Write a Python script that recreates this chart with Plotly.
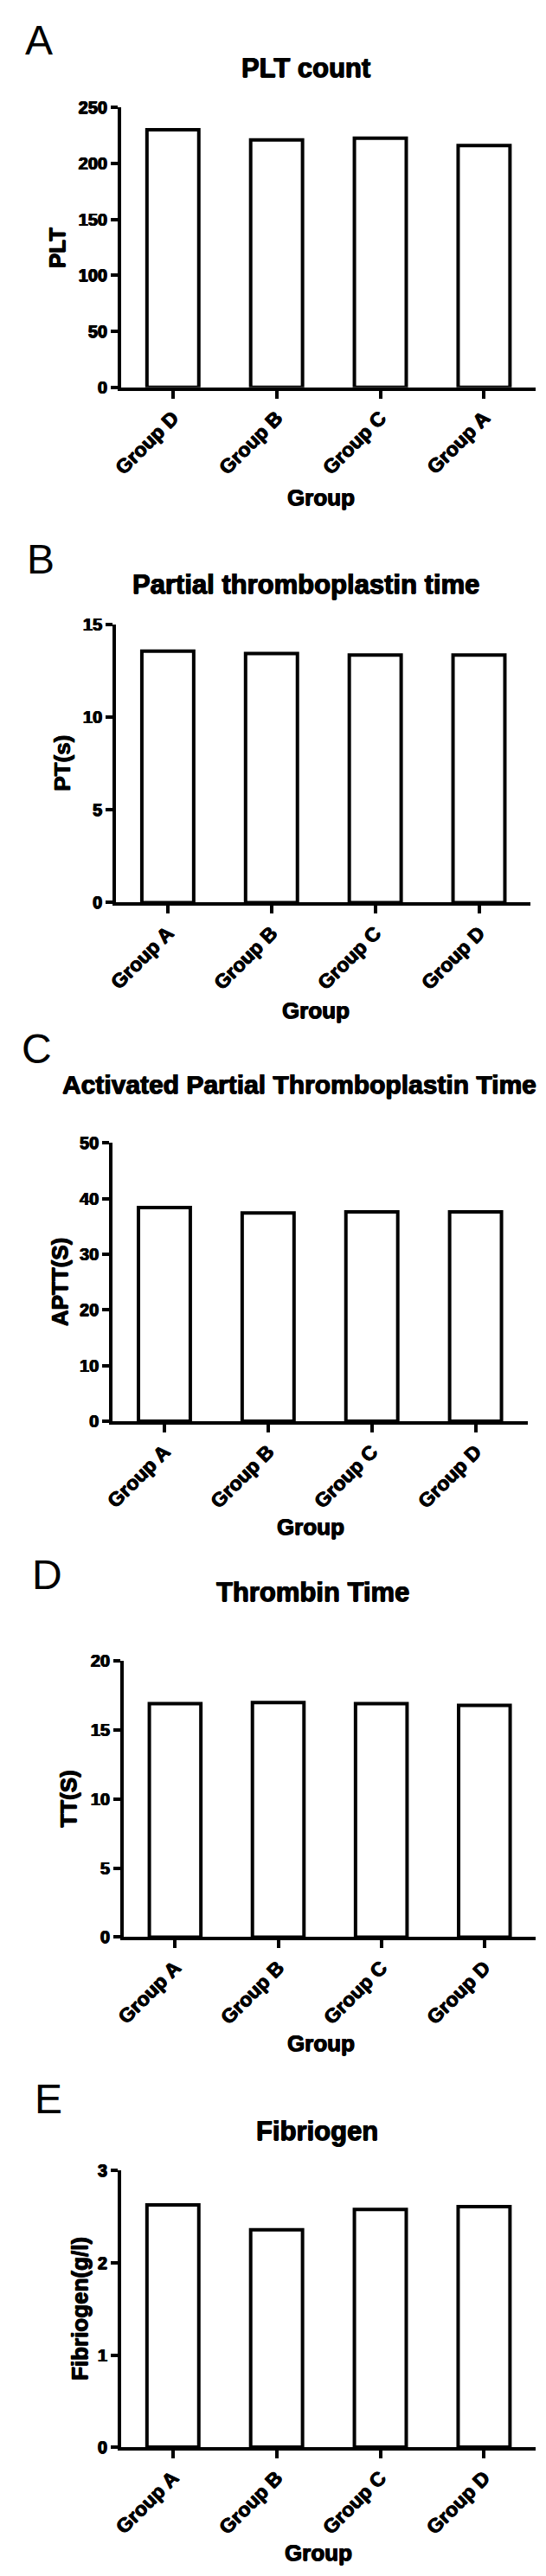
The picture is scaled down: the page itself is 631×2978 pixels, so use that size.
import plotly.graph_objects as go

W, H = 631, 2978

# ---------------- data ----------------
plt_groups = ["Group D", "Group B", "Group C", "Group A"]
plt_values = [230, 221, 222.5, 216]

groups = ["Group A", "Group B", "Group C", "Group D"]
pt_values = [13.56, 13.43, 13.35, 13.35]
aptt_values = [38.4, 37.4, 37.6, 37.6]
tt_values = [16.9, 16.97, 16.9, 16.77]
fib_values = [2.63, 2.36, 2.58, 2.61]

panel_letters = ["A", "B", "C", "D", "E"]
titles = ["PLT count", "Partial thromboplastin time",
          "Activated Partial Thromboplastin Time", "Thrombin Time", "Fibriogen"]
y_titles = ["PLT", "PT(s)", "APTT(S)", "TT(S)", "Fibriogen(g/l)"]
x_title = "Group"
y_max = [250, 15, 50, 20, 3]
y_dtick = [50, 5, 10, 5, 1]

panels_cats = [plt_groups, groups, groups, groups, groups]
panels_vals = [plt_values, pt_values, aptt_values, tt_values, fib_values]

# ---------------- layout geometry (pixels) ----------------
x_left = [123, 117, 113, 126, 123]
x_right = [611, 605, 601, 611, 611]
y_zero = [432, 1032, 1636, 2237, 2831]
y_top = [106, 708, 1312, 1915, 2509]

letter_pos = [(26, 28), (28, 632), (24, 1202), (36, 1815), (38, 2425)]
title_pos = [(340, 60), (340, 661), (333, 1244), (349, 1835), (354, 2463)]
title_size = [31, 31, 30, 31, 31]
xtitle_pos = [(358, 560), (352, 1158), (346, 1759), (358, 2360), (355, 2954)]
ytitle_pos = [(48, 270), (53, 870), (51, 1474), (61, 2076), (75, 2670)]

FONT = "Liberation Sans, Arial, sans-serif"
HEAVY = "0.6px 0 0 black, -0.6px 0 0 black, 0 0.5px 0 black"


def bold(size):
    return dict(family=FONT, size=size, color="black", weight="bold", shadow=HEAVY)


def px(x):
    return x / W


def py(y):
    return 1 - y / H


fig = go.Figure()
layout = dict(
    width=W, height=H,
    margin=dict(l=0, r=0, t=0, b=0),
    paper_bgcolor="white", plot_bgcolor="white",
    showlegend=False,
    annotations=[],
)

for i in range(5):
    n = i + 1
    xa = "x" if n == 1 else f"x{n}"
    ya = "y" if n == 1 else f"y{n}"
    fig.add_trace(go.Bar(
        x=panels_cats[i], y=panels_vals[i],
        xaxis=xa, yaxis=ya, width=0.5,
        marker=dict(color="white", line=dict(color="black", width=4)),
        hoverinfo="x+y",
    ))
    layout[f"xaxis{n}"] = dict(
        domain=[px(x_left[i]), px(x_right[i])], anchor=ya,
        type="category", range=[-0.5, 3.5],
        showline=True, linewidth=3.5, linecolor="black",
        ticks="outside", ticklen=9, tickwidth=3.5, tickcolor="black",
        tickangle=-45, showgrid=False, zeroline=False,
        tickfont=bold(23),
    )
    layout[f"yaxis{n}"] = dict(
        domain=[py(y_zero[i]), py(y_top[i])], anchor=xa,
        range=[0, y_max[i]], dtick=y_dtick[i], tick0=0,
        showline=True, linewidth=3.5, linecolor="black",
        ticks="outside", ticklen=8, tickwidth=3.5, tickcolor="black",
        showgrid=False, zeroline=False,
        tickfont=bold(20),
    )
    ann = layout["annotations"]
    lx, ly = letter_pos[i]
    ann.append(dict(text=panel_letters[i], x=px(lx), y=py(ly), xref="paper", yref="paper",
                    showarrow=False, xanchor="center", yanchor="middle",
                    font=dict(family=FONT, size=48, color="black")))
    tx, ty = title_pos[i]
    ann.append(dict(text=titles[i], x=px(tx), y=py(ty), xref="paper", yref="paper",
                    showarrow=False, xanchor="center", yanchor="middle",
                    font=bold(title_size[i])))
    gx, gy = xtitle_pos[i]
    ann.append(dict(text=x_title, x=px(gx), y=py(gy), xref="paper", yref="paper",
                    showarrow=False, xanchor="center", yanchor="middle",
                    font=bold(26)))
    vx, vy = ytitle_pos[i]
    ann.append(dict(text=y_titles[i], x=px(vx), y=py(vy), xref="paper", yref="paper",
                    showarrow=False, xanchor="center", yanchor="middle", textangle=-90,
                    font=bold(26)))

fig.update_layout(**layout)
fig.write_html("out.html")
